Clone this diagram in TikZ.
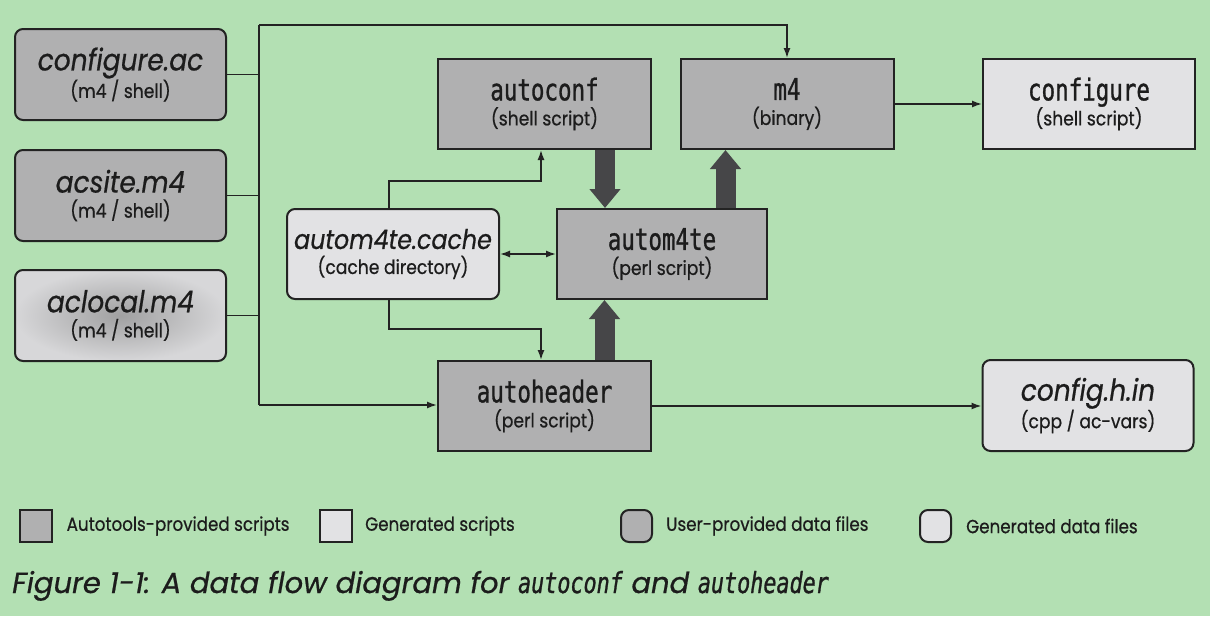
\documentclass[tikz,border=0pt]{standalone}
\usepackage{fontspec}
\setmainfont{Poppins}[FakeStretch=0.88, FakeBold=0.6]
\setmonofont{DejaVu Sans Mono}[FakeStretch=0.75, FakeBold=1]
\newfontfamily\capfont{Poppins}[FakeBold=0.6]
\usetikzlibrary{arrows.meta,positioning}

\definecolor{bggreen}{RGB}{179,224,179}
\definecolor{toolgray}{RGB}{176,176,177}
\definecolor{genlight}{RGB}{226,226,228}
\definecolor{boxline}{RGB}{35,35,35}
\definecolor{fatgray}{RGB}{70,70,72}
\definecolor{inktxt}{RGB}{28,28,28}

\newcommand{\filettl}[2][30]{{\fontsize{#1}{32}\selectfont\itshape #2}}
\newcommand{\progttl}[1]{{\fontsize{30}{32}\selectfont\ttfamily #1}}
\newcommand{\kindtxt}[1]{{\fontsize{19.5}{22}\selectfont #1}}

\begin{document}
\begin{tikzpicture}[x=1pt, y=-1pt,
    tool/.style={draw=boxline, line width=2pt, fill=toolgray, text=inktxt,
      minimum width=213pt, minimum height=90pt, align=center, inner sep=0pt,
      font=\fontsize{19.5}{25}\selectfont},
    genscr/.style={tool, fill=genlight},
    userdata/.style={tool, rounded corners=8pt, minimum width=211pt, minimum height=91pt},
    gendata/.style={userdata, fill=genlight},
    bus/.style={line width=1.5pt, draw=boxline},
    flow/.style={bus, -{Latex[length=10pt,width=7pt]}},
    bigflow/.style={line width=20pt, draw=fatgray, -{Triangle[length=19pt,width=30pt]}},
    keybox/.style={draw=boxline, line width=2pt, minimum width=32pt, minimum height=32pt, inner sep=0pt},
    keytext/.style={anchor=west, text=inktxt, font=\fontsize{19}{22}\selectfont, inner sep=0pt}
  ]
  % background
  \fill[bggreen] (0,0) rectangle (1210,616);

  % user-provided input files
  \node[userdata] (confac) at (120.5,74.5) {\filettl{configure.ac}\\\kindtxt{(m4 / shell)}};
  \node[userdata] (acsite) at (120.5,195.5) {\filettl{acsite.m4}\\\kindtxt{(m4 / shell)}};
  \node[userdata, fill=none, inner color=toolgray!85!black!90, outer color=genlight!95!black]
    (aclocal) at (120.5,315.5) {\filettl{aclocal.m4}\\\kindtxt{(m4 / shell)}};

  % tools
  \node[tool] (autoconf) at (544.5,104) {\progttl{autoconf}\\\kindtxt{(shell script)}};
  \node[tool] (m4) at (787,104) {\progttl{m4}\\\kindtxt{(binary)}};
  \node[tool, minimum width=210pt] (autom4te) at (662,254) {\progttl{autom4te}\\\kindtxt{(perl script)}};
  \node[tool] (autoheader) at (544.5,406) {\progttl{autoheader}\\\kindtxt{(perl script)}};

  % cache
  \node[gendata, minimum width=212pt, minimum height=90pt] (cache) at (393,254)
    {\filettl[27]{autom4te.cache}\\\kindtxt{(cache directory)}};

  % outputs
  \node[genscr, minimum width=212pt] (configure) at (1089,104) {\progttl{configure}\\\kindtxt{(shell script)}};
  \node[gendata] (confhin) at (1088,405.5) {\filettl{config.h.in}\\\kindtxt{(cpp / ac-vars)}};

  % input bus
  \coordinate (bustop) at (259,25);
  \coordinate (busbot) at (259,405);
  \draw[bus] (bustop) -- (busbot);
  \draw[bus] (confac.east) -- (confac.east -| bustop);
  \draw[bus] (acsite.east) -- (acsite.east -| bustop);
  \draw[bus] (aclocal.east) -- (aclocal.east -| bustop);
  \draw[flow] (bustop) -| (m4.north);
  \draw[flow] (busbot) -- (busbot -| autoheader.west);

  % cache links
  \coordinate (cacheup) at (541,181);
  \coordinate (cachedown) at (541,329);
  \draw[flow] ([xshift=-4pt]cache.north) |- (cacheup) -- ([xshift=-3.5pt]autoconf.south);
  \draw[flow] ([xshift=-4pt]cache.south) |- (cachedown) -- ([xshift=-3.5pt]autoheader.north);
  \draw[flow, {Latex[length=10pt,width=7pt]}-{Latex[length=10pt,width=7pt]}] (cache.east) -- (autom4te.west);

  % outputs
  \draw[flow] (m4.east) -- (configure.west);
  \draw[flow] (autoheader.east) -- (autoheader.east -| confhin.west);

  % autom4te calls
  \draw[bigflow] ([xshift=60.5pt]autoconf.south) -- ([xshift=-57pt]autom4te.north);
  \draw[bigflow] ([xshift=63.5pt]autom4te.north) -- ([xshift=-61.5pt]m4.south);
  \draw[bigflow] ([xshift=60pt]autoheader.north) -- ([xshift=-57.5pt]autom4te.south);

  % key
  \node[keybox, fill=toolgray] (keytool) at (35.5,526) {};
  \node[keytext, right=14pt of keytool] (keytooltxt) {Autotools-provided scripts};
  \node[keybox, fill=genlight] (keygen) at (336,526) {};
  \node[keytext, right=12pt of keygen] (keygentxt) {Generated scripts};
  \node[keybox, fill=toolgray, rounded corners=8pt, minimum width=31pt] (keyuser) at (636.5,526) {};
  \node[keytext, right=13pt of keyuser] (keyusertxt) {User-provided data files};
  \node[keybox, fill=genlight, rounded corners=8pt, minimum width=31pt] (keydata) at (935.5,526) {};
  \node[keytext, right=14pt of keydata] (keydatatxt) {Generated data files};

  % caption
  \node[anchor=base west, inner sep=0pt, text=inktxt, font=\fontsize{29}{32}\selectfont\capfont\itshape]
    (caption) at (12,593) {Figure 1-1: A data flow diagram for {\ttfamily autoconf} and {\ttfamily autoheader}};
\end{tikzpicture}
\end{document}
